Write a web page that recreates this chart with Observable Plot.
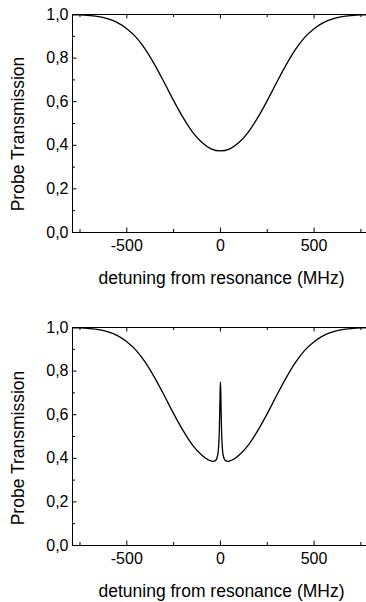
<!DOCTYPE html>
<html><head><meta charset="utf-8">
<script src="https://cdn.jsdelivr.net/npm/d3@7"></script>
<script src="https://cdn.jsdelivr.net/npm/@observablehq/plot@0.6"></script>
<style>body{margin:0;background:#fff} svg{display:block}</style>
</head><body><div id="c"></div>
<script>
// Top panel: Doppler-broadened absorption (no coupling)
const detuningTop = [-800,-750,-700,-650,-600,-550,-500,-450,-400,-350,-300,-250,-200,-150,-100,-50,0,
  50,100,150,200,250,300,350,400,450,500,550,600,650,700,750,800];
const transTop = [0.999,0.998,0.995,0.990,0.980,0.963,0.935,0.895,0.839,0.768,0.688,0.605,0.528,0.462,0.414,0.384,0.374,
  0.384,0.414,0.462,0.528,0.605,0.688,0.768,0.839,0.895,0.935,0.963,0.980,0.990,0.995,0.998,0.999];

// Bottom panel: with narrow transparency peak at resonance
const detuningBottom = [-800,-750,-700,-650,-600,-550,-500,-450,-400,-350,-300,-250,-200,-150,-100,-75,-60,-50,-40,-35,-30,-25,-20,-15,-12,-10,-8,-6,-4,-2,0,
  2,4,6,8,10,12,15,20,25,30,35,40,50,60,75,100,150,200,250,300,350,400,450,500,550,600,650,700,750,800];
const transBottom = [0.999,0.998,0.995,0.990,0.980,0.963,0.935,0.895,0.839,0.768,0.688,0.605,0.528,0.462,0.415,0.398,0.391,0.388,0.386,0.387,0.388,0.391,0.398,0.413,0.430,0.450,0.480,0.528,0.603,0.698,0.750,
  0.698,0.603,0.528,0.480,0.450,0.430,0.413,0.398,0.391,0.388,0.387,0.386,0.388,0.391,0.398,0.415,0.462,0.528,0.605,0.688,0.768,0.839,0.895,0.935,0.963,0.980,0.990,0.995,0.998,0.999];

const xMajor = [-500, 0, 500];
const xMinor = [-750, -250, 250, 750];
const yMajor = [0, 0.2, 0.4, 0.6, 0.8, 1.0];
const yMinor = [0.1, 0.3, 0.5, 0.7, 0.9];
const xLabel = "detuning from resonance (MHz)";
const yLabel = "Probe Transmission";

const W = 366, ML = 72, MR = 0, PH = 218;
const PW = W - ML - MR;
const xDomain = [-790, 780];

function panel(xs, ys, height, marginTop, marginBottom, labelDy) {
  const data = xs.map((x, i) => ({x, y: ys[i]}));
  return Plot.plot({
    width: W, height, marginLeft: ML, marginRight: MR, marginTop, marginBottom,
    style: {fontFamily: "'Liberation Sans', Arial, sans-serif", fontSize: "16px", color: "#000", background: "#fff"},
    x: {domain: xDomain},
    y: {domain: [0, 1]},
    marks: [
      Plot.axisX({ticks: xMajor, tickSize: 0, tickPadding: 7, tickFormat: d => String(d), label: null, fontSize: 16}),
      Plot.axisY({ticks: yMajor, tickSize: 0, tickPadding: 4, tickFormat: d => d.toFixed(1).replace(".", ","), label: null, fontSize: 16}),
      Plot.tickX(xMajor, {insetTop: PH - 4.5, stroke: "#000"}),
      Plot.tickX(xMinor, {insetTop: PH - 3, stroke: "#000"}),
      Plot.tickX(xMajor, {insetBottom: PH - 4.5, stroke: "#000"}),
      Plot.tickX(xMinor, {insetBottom: PH - 3, stroke: "#000"}),
      Plot.tickY(yMajor, {insetRight: PW - 4.5, stroke: "#000"}),
      Plot.tickY(yMinor, {insetRight: PW - 3, stroke: "#000"}),
      Plot.ruleY([0, 1], {stroke: "#000", strokeWidth: 1}),
      Plot.ruleX([xDomain[0]], {stroke: "#000", strokeWidth: 1}),
      Plot.line(data, {x: "x", y: "y", stroke: "#000", strokeWidth: 1.3, curve: "monotone-x", clip: true}),
      Plot.text([xLabel], {frameAnchor: "bottom", lineAnchor: "bottom", dy: 51, dx: 2, fontSize: 17.5}),
      Plot.text([yLabel], {frameAnchor: "left", textAnchor: "middle", rotate: -90, dx: -54, dy: labelDy, fontSize: 17.5})
    ]
  });
}

const c = document.getElementById("c");
c.append(panel(detuningTop, transTop, 300, 14, 68, 10.5));
c.append(panel(detuningBottom, transBottom, 302, 27, 57, 11.5));
</script>
</body></html>
